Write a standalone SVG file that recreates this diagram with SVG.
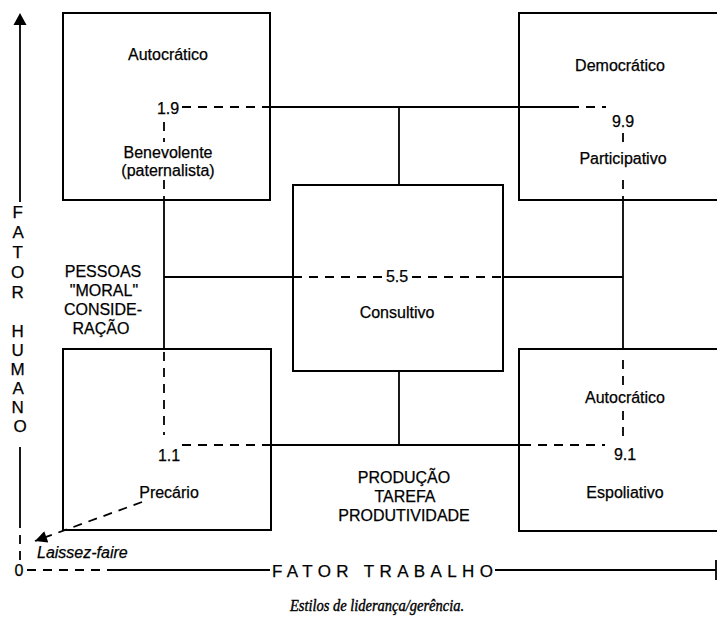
<svg xmlns="http://www.w3.org/2000/svg" width="717" height="618" viewBox="0 0 717 618">
<style>
.box{fill:none;stroke:#000;stroke-width:2}
.s{stroke:#000;stroke-width:1.8;fill:none}
.d{stroke:#000;stroke-width:1.8;fill:none;stroke-dasharray:9 7}
.t{font-family:"Liberation Sans",Arial,sans-serif;font-size:16px;fill:#000;text-anchor:middle;stroke:#000;stroke-width:0.25}
.ax{font-size:17px}
.cap{font-family:"Liberation Serif","Times New Roman",serif;font-size:16px;font-style:italic;fill:#000;stroke:#000;stroke-width:0.4}
</style>
<defs>
<marker id="ah" viewBox="0 0 10 10" refX="10" refY="5" markerWidth="15" markerHeight="12" markerUnits="userSpaceOnUse" orient="auto">
<path d="M0,0 L10,5 L0,10 z" fill="#000"/>
</marker>
</defs>
<rect width="717" height="618" fill="#fff"/>

<g id="connectors">
<line class="d" x1="182" y1="107" x2="265" y2="107"/>
<line class="s" x1="265" y1="107" x2="570" y2="107"/>
<line class="d" x1="570" y1="107" x2="606" y2="107"/>
<line class="d" x1="164" y1="122" x2="164" y2="142"/>
<line class="d" x1="164" y1="180" x2="164" y2="200"/>
<line class="s" x1="164" y1="200" x2="164" y2="350"/>
<line class="d" x1="164" y1="352" x2="164" y2="435"/>
<line class="d" x1="623" y1="133" x2="623" y2="143"/>
<line class="d" x1="623" y1="180" x2="623" y2="200"/>
<line class="s" x1="623" y1="200" x2="623" y2="350"/>
<line class="d" x1="623" y1="360" x2="623" y2="388"/>
<line class="d" x1="623" y1="411" x2="623" y2="436"/>
<line class="s" x1="164" y1="277" x2="293" y2="277"/>
<line class="d" x1="293" y1="277" x2="383" y2="277"/>
<line class="d" x1="412" y1="277" x2="503" y2="277"/>
<line class="s" x1="503" y1="277" x2="623" y2="277"/>
<line class="s" x1="399" y1="107" x2="399" y2="185"/>
<line class="s" x1="399" y1="371" x2="399" y2="445"/>
<line class="d" x1="182" y1="445" x2="263" y2="445"/>
<line class="s" x1="263" y1="445" x2="522" y2="445"/>
<line class="d" x1="522" y1="445" x2="605" y2="445"/>
<line class="d" x1="142" y1="502" x2="35" y2="541" stroke-dasharray="7 5" marker-end="url(#ah)"/>
</g>

<g id="axes">
<polygon points="20,13 13.5,25 26.5,25" fill="#000"/>
<line class="s" x1="20" y1="24" x2="20" y2="202"/>
<line class="s" x1="20" y1="447" x2="20" y2="528"/>
<line class="d" x1="20" y1="535" x2="20" y2="562" stroke-dasharray="8 6"/>
<text class="t" x="19" y="576" font-size="15">0</text>
<line class="d" x1="27" y1="570" x2="115" y2="570" stroke-dasharray="11 9"/>
<line class="s" x1="115" y1="570" x2="270" y2="570"/>
<line class="s" x1="495" y1="570" x2="716" y2="570"/>
<line class="s" x1="716" y1="560" x2="716" y2="580"/>
<text class="t ax" x="272" y="577" style="text-anchor:start" textLength="221" lengthAdjust="spacing">FATOR TRABALHO</text>
<text class="t ax" x="20">
<tspan x="20" y="218">F</tspan>
<tspan x="20" y="238">A</tspan>
<tspan x="20" y="258">T</tspan>
<tspan x="20" y="278">O</tspan>
<tspan x="20" y="298">R</tspan>
<tspan x="20" y="337">H</tspan>
<tspan x="20" y="356">U</tspan>
<tspan x="20" y="375">M</tspan>
<tspan x="20" y="394">A</tspan>
<tspan x="20" y="413">N</tspan>
<tspan x="20" y="432">O</tspan>
</text>
</g>

<g id="box-19">
<rect class="box" x="63" y="13" width="207" height="187"/>
<text class="t" x="168" y="60">Autocrático</text>
<text class="t" x="168" y="114">1.9</text>
<text class="t" x="168" y="158">Benevolente</text>
<text class="t" x="168" y="176">(paternalista)</text>
</g>

<g id="box-99">
<rect class="box" x="519" y="13" width="210" height="187"/>
<text class="t" x="620" y="71">Democrático</text>
<text class="t" x="623" y="127">9.9</text>
<text class="t" x="623" y="164">Participativo</text>
</g>

<g id="box-55">
<rect class="box" x="293" y="185" width="210" height="186"/>
<text class="t" x="397" y="282">5.5</text>
<text class="t" x="397" y="318">Consultivo</text>
</g>

<g id="box-11">
<rect class="box" x="63" y="349" width="208" height="181"/>
<text class="t" x="169" y="461">1.1</text>
<text class="t" x="169" y="498">Precário</text>
</g>

<g id="box-91">
<rect class="box" x="519" y="349" width="210" height="182"/>
<text class="t" x="625" y="403">Autocrático</text>
<text class="t" x="625" y="460">9.1</text>
<text class="t" x="625" y="498">Espoliativo</text>
</g>

<g id="label-pessoas">
<text class="t" x="103" y="277">PESSOAS</text>
<text class="t" x="104" y="296">"MORAL"</text>
<text class="t" x="103" y="315">CONSIDE-</text>
<text class="t" x="101" y="334">RAÇÃO</text>
</g>

<g id="label-producao">
<text class="t" x="404" y="483">PRODUÇÃO</text>
<text class="t" x="405" y="502">TAREFA</text>
<text class="t" x="404" y="521">PRODUTIVIDADE</text>
</g>

<text class="t" x="37" y="558" style="text-anchor:start;font-style:italic" font-size="15">Laissez-faire</text>
<text class="cap" x="290" y="611" textLength="174" lengthAdjust="spacingAndGlyphs">Estilos de liderança/gerência.</text>
</svg>
